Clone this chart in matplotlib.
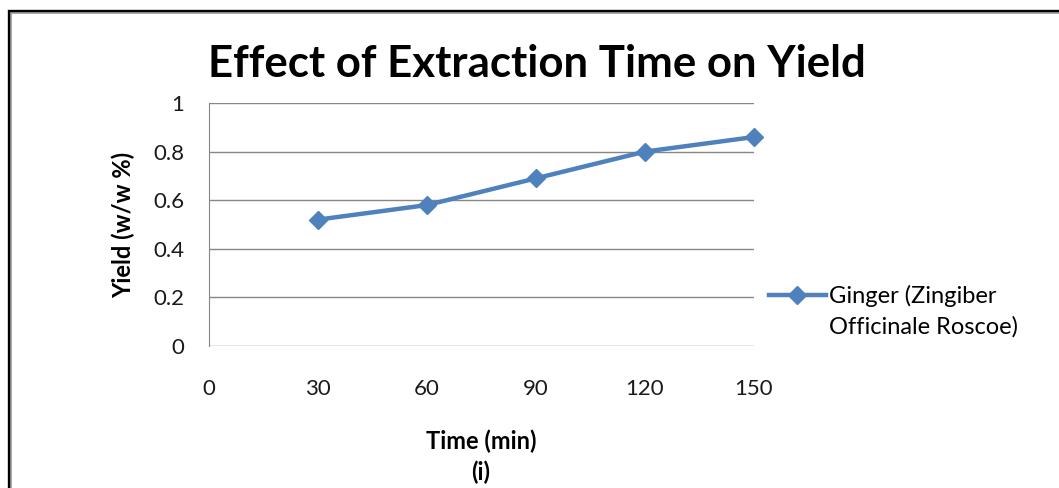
import matplotlib
matplotlib.use('Agg')
from matplotlib import pyplot as plt
from matplotlib.patches import Rectangle

# data
time_min = [30, 60, 90, 120, 150]
yield_pct = [0.52, 0.58, 0.69, 0.80, 0.86]
x_ticks = [0, 30, 60, 90, 120, 150]
y_ticks = [0, 0.2, 0.4, 0.6, 0.8, 1]
y_labels = ['0', '0.2', '0.4', '0.6', '0.8', '1']
series_name = ['Ginger (Zingiber', 'Officinale Roscoe)']

plt.rcParams['font.family'] = ['Lato', 'DejaVu Sans']
blue = '#4F81BD'
W, H = 1059, 488

fig = plt.figure(figsize=(W / 100, H / 100), dpi=100)
fig.patch.set_facecolor('white')

# outer frame of the chart (black edge with grey inner line)
fig.add_artist(Rectangle((8.5 / W, -0.1), 1.2, 1.1 - 10.5 / H,
                         transform=fig.transFigure, fill=False,
                         edgecolor='black', linewidth=2.4))
fig.add_artist(Rectangle((11 / W, -0.1), 1.2, 1.1 - 13 / H,
                         transform=fig.transFigure, fill=False,
                         edgecolor='#a0a0a0', linewidth=1.2))

ax = fig.add_axes([209 / W, (H - 346) / H, 545 / W, 243 / H])
line, = ax.plot(time_min, yield_pct, color=blue, linewidth=3.2,
                marker='D', markersize=9, markerfacecolor=blue,
                markeredgecolor=blue, clip_on=False)

ax.set_xlim(0, 150)
ax.set_ylim(0, 1)
ax.set_xticks(x_ticks)
ax.set_yticks(y_ticks)
ax.set_yticklabels(y_labels)
ax.grid(axis='y', color='#868686', linewidth=1)
ax.set_axisbelow(True)
for side in ['top', 'right', 'bottom']:
    ax.spines[side].set_visible(False)
ax.spines['left'].set_color('#868686')
ax.tick_params(axis='x', length=0, pad=24, labelsize=16, colors='#1a1a1a')
ax.tick_params(axis='y', length=0, pad=18, labelsize=16, colors='#1a1a1a')

ax.set_ylabel('Yield (w/w %)', fontsize=17, fontweight='bold', labelpad=13)
fig.text(481 / W, 1 - 441 / H, 'Time (min)', ha='center', va='center',
         fontsize=17, fontweight='bold')
fig.text(481 / W, 1 - 472 / H, '(i)', ha='center', va='center',
         fontsize=17, fontweight='bold')

fig.text(537 / W, 1 - 64 / H, 'Effect of Extraction Time on Yield',
         ha='center', va='center', fontsize=31.5, fontweight='bold')

leg = fig.legend([line], [series_name[0]], loc='center left',
                 bbox_to_anchor=(762 / W, 1 - 296 / H), frameon=False,
                 fontsize=17, handlelength=2.4, handletextpad=0.15,
                 borderaxespad=0, borderpad=0.3)

# second line of the legend label, under the first one
fig.canvas.draw()
bb = leg.get_texts()[0].get_window_extent()
fig.text(bb.x0 / W, (bb.y0 - 31) / H, series_name[1], ha='left',
         va='bottom', fontsize=17)

fig.savefig('out.png', dpi=100)
